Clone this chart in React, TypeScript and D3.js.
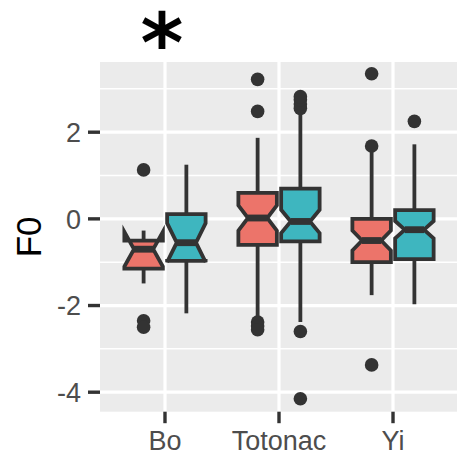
import React from "react";
import * as d3 from "d3";

// ---- data ----
const categories = ["Bo", "Totonac", "Yi"];
const groups = ["A", "B"];
// order: Bo-A, Bo-B, Totonac-A, Totonac-B, Yi-A, Yi-B
const boxCategory = ["Bo", "Bo", "Totonac", "Totonac", "Yi", "Yi"];
const boxGroup = ["A", "B", "A", "B", "A", "B"];
const whiskerLow = [-1.49, -2.18, -2.33, -2.38, -1.76, -1.97];
const q1 = [-1.15, -0.97, -0.6, -0.52, -1.0, -0.93];
const notchLow = [-1.1, -1.0, -0.27, -0.33, -0.73, -0.45];
const median = [-0.7, -0.55, 0.02, -0.06, -0.5, -0.25];
const notchHigh = [-0.3, -0.1, 0.31, 0.21, -0.27, -0.05];
const q3 = [-0.5, 0.11, 0.6, 0.7, 0.0, 0.2];
const whiskerHigh = [-0.27, 1.25, 1.87, 2.5, 1.65, 1.72];
const outliers = [
  [1.13, -2.35, -2.5],
  [],
  [3.22, 2.48, -2.38, -2.47, -2.56],
  [2.55, 2.65, 2.75, 2.82, -2.6, -4.15],
  [3.35, 1.68, -3.37],
  [2.25],
];
const yTicks = [-4, -2, 0, 2];
const yMinor = [-3, -1, 1, 3];
const fills = ["#EC746A", "#3EB6BF"];

const W = 457;
const H = 458;
const panel = { left: 100, right: 458, top: 62, bottom: 411.7 };

export default function App() {
  const x = d3
    .scalePoint<string>()
    .domain(categories)
    .range([panel.left, panel.right])
    .padding(0.57);
  const step = x.step();
  const dodge = d3
    .scaleBand<string>()
    .domain(groups)
    .range([-0.375 * step, 0.375 * step]);
  const boxW = dodge.bandwidth() * 0.9;
  const y = d3.scaleLinear().domain([-4.45, 3.62]).range([panel.bottom, panel.top]);

  const dark = "#333333";
  const lw = 3.8;

  const boxes = boxCategory.map((c, i) => {
    const cx = (x(c) as number) + (dodge(boxGroup[i]) as number) + dodge.bandwidth() / 2;
    const xmin = cx - boxW / 2;
    const xmax = cx + boxW / 2;
    const ind = (boxW / 2) * 0.5;
    const pts: [number, number][] = [
      [xmin, y(q3[i])],
      [xmin, y(notchHigh[i])],
      [xmin + ind, y(median[i])],
      [xmin, y(notchLow[i])],
      [xmin, y(q1[i])],
      [xmax, y(q1[i])],
      [xmax, y(notchLow[i])],
      [xmax - ind, y(median[i])],
      [xmax, y(notchHigh[i])],
      [xmax, y(q3[i])],
    ];
    const path = d3.line()(pts) + "Z";
    const fill = fills[groups.indexOf(boxGroup[i])];
    return (
      <g key={i}>
        <line x1={cx} x2={cx} y1={y(q3[i])} y2={y(whiskerHigh[i])} stroke={dark} strokeWidth={lw} />
        <line x1={cx} x2={cx} y1={y(q1[i])} y2={y(whiskerLow[i])} stroke={dark} strokeWidth={lw} />
        <path d={path} fill={fill} stroke={dark} strokeWidth={lw} strokeLinejoin="miter" />
        <line x1={xmin + ind} x2={xmax - ind} y1={y(median[i])} y2={y(median[i])} stroke={dark} strokeWidth={lw * 1.8} />
        {outliers[i].map((v, j) => (
          <circle key={j} cx={cx} cy={y(v)} r={6.8} fill={dark} />
        ))}
      </g>
    );
  });

  return (
    <svg width={W} height={H} style={{ position: "absolute", left: 0, top: 0, background: "#fff" }}>
      <rect x={panel.left} y={panel.top} width={panel.right - panel.left} height={panel.bottom - panel.top} fill="#EBEBEB" />
      {yMinor.map((t) => (
        <line key={"m" + t} x1={panel.left} x2={panel.right} y1={y(t)} y2={y(t)} stroke="#fff" strokeWidth={1.5} />
      ))}
      {yTicks.map((t) => (
        <line key={"g" + t} x1={panel.left} x2={panel.right} y1={y(t)} y2={y(t)} stroke="#fff" strokeWidth={3.2} />
      ))}
      {categories.map((c) => (
        <line key={"v" + c} x1={x(c)} x2={x(c)} y1={panel.top} y2={panel.bottom} stroke="#fff" strokeWidth={3.2} />
      ))}
      {boxes}
      {yTicks.map((t) => (
        <g key={"t" + t}>
          <line x1={88} x2={panel.left} y1={y(t)} y2={y(t)} stroke={dark} strokeWidth={3.4} />
          <text x={81} y={y(t)} dy="0.36em" textAnchor="end" fontFamily="Liberation Sans, Arial, sans-serif" fontSize={27} fill="#4D4D4D">
            {t}
          </text>
        </g>
      ))}
      {categories.map((c) => (
        <g key={"xt" + c}>
          <line x1={x(c)} x2={x(c)} y1={panel.bottom} y2={panel.bottom + 11.5} stroke={dark} strokeWidth={3.4} />
          <text x={x(c)} y={450} textAnchor="middle" fontFamily="Liberation Sans, Arial, sans-serif" fontSize={27} fill="#4D4D4D">
            {c}
          </text>
        </g>
      ))}
      <text
        transform={`translate(41,${(panel.top + panel.bottom) / 2}) rotate(-90)`}
        textAnchor="middle"
        fontFamily="Liberation Sans, Arial, sans-serif"
        fontSize={35}
        fill="#000"
      >
        F0
      </text>
      <text x={162} y={72} textAnchor="middle" fontFamily="DejaVu Sans, sans-serif" fontWeight="bold" fontSize={82} fill="#000">
        *
      </text>
    </svg>
  );
}
